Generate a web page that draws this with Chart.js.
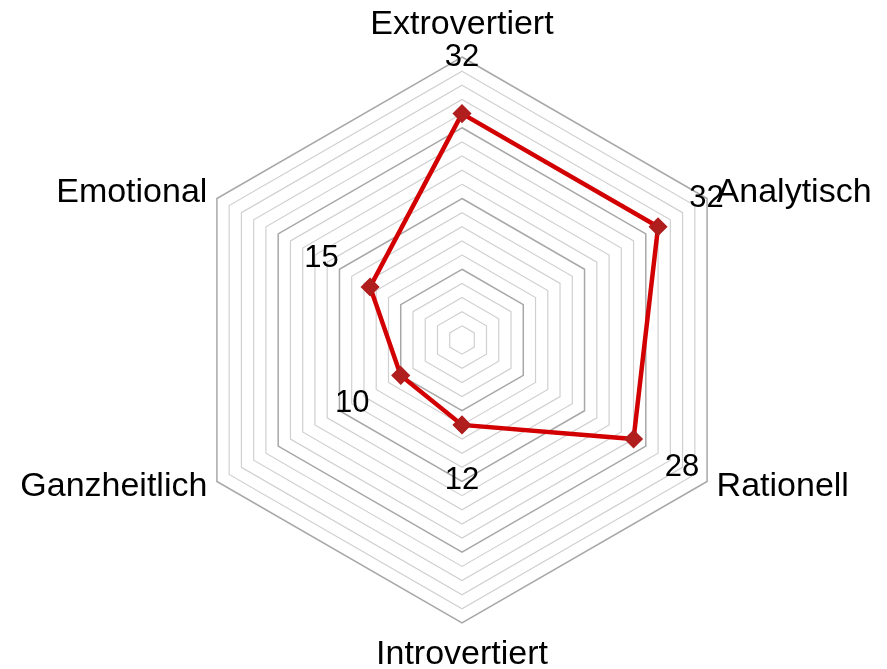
<!DOCTYPE html>
<html>
<head>
<meta charset="utf-8">
<script src="https://cdn.jsdelivr.net/npm/chart.js@4.4.0/dist/chart.umd.min.js"></script>
<style>
  html, body { margin: 0; padding: 0; background: #ffffff; }
  #wrap { width: 887px; height: 669px; position: relative; }
</style>
</head>
<body>
<div id="wrap"><canvas id="c"></canvas></div>
<script>
const categories = ['Extrovertiert', 'Analytisch', 'Rationell', 'Introvertiert', 'Ganzheitlich', 'Emotional'];
const values = [32, 32, 28, 12, 10, 15];
const scaleMin = 0;
const scaleMax = 40;
const scaleStep = 2;
const majorStep = 10;

const FONT = '"Liberation Sans", Arial, sans-serif';

const labelsPlugin = {
  id: 'customLabels',
  afterDraw(chart) {
    const scale = chart.scales.r;
    const ctx = chart.ctx;
    ctx.save();
    ctx.fillStyle = '#000000';
    ctx.textBaseline = 'middle';
    ctx.font = '34px ' + FONT;
    categories.forEach((label, i) => {
      const angle = scale.getIndexAngle(i);
      const s = Math.sin(angle);
      const vertical = Math.abs(s) < 0.1;
      const pos = scale.getPointPosition(i, scale.drawingArea + (vertical ? 32 : 11));
      ctx.textAlign = vertical ? 'center' : (s > 0 ? 'left' : 'right');
      ctx.fillText(label, pos.x, pos.y);
    });
    ctx.font = '31px ' + FONT;
    ctx.textAlign = 'center';
    values.forEach((v, i) => {
      const d = scale.getDistanceFromCenterForValue(v) + 56;
      const pos = scale.getPointPosition(i, d);
      ctx.fillText(String(v), pos.x, pos.y);
    });
    ctx.restore();
  }
};

new Chart(document.getElementById('c'), {
  type: 'radar',
  data: {
    labels: categories,
    datasets: [{
      data: values,
      borderColor: '#d20000',
      borderWidth: 4.5,
      fill: false,
      tension: 0,
      pointStyle: 'rectRot',
      pointRadius: 8.5,
      pointBackgroundColor: '#b01e1e',
      pointBorderColor: '#b01e1e',
      pointBorderWidth: 1.5
    }]
  },
  options: {
    responsive: true,
    maintainAspectRatio: false,
    animation: false,
    layout: { padding: { top: 57, bottom: 45, left: 120, right: 83 } },
    plugins: { legend: { display: false }, tooltip: { enabled: false } },
    scales: {
      r: {
        min: scaleMin,
        max: scaleMax,
        ticks: { display: false, stepSize: scaleStep },
        angleLines: { display: false },
        pointLabels: { display: false },
        grid: {
          circular: false,
          color: (c) => (c.tick && c.tick.value % majorStep === 0) ? '#a8a8a8' : '#d0d0d0',
          lineWidth: (c) => (c.tick && c.tick.value % majorStep === 0) ? 1.5 : 1.2
        }
      }
    }
  },
  plugins: [labelsPlugin]
});
</script>
</body>
</html>
